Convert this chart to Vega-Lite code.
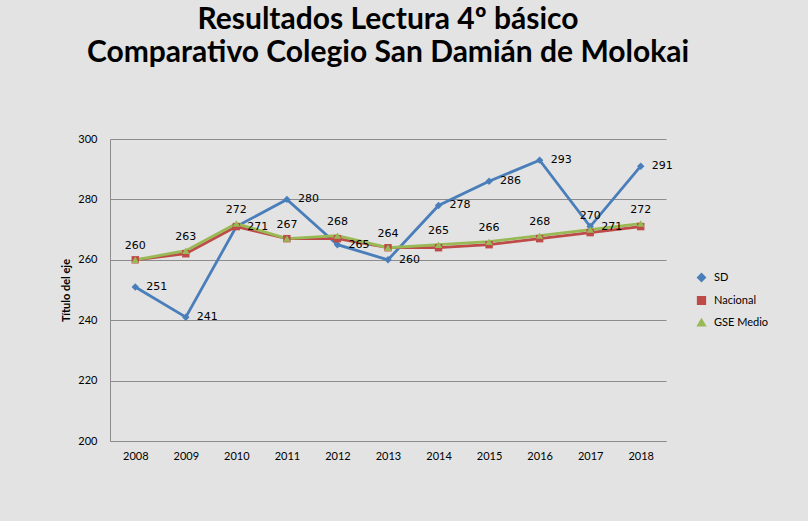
{
  "$schema": "https://vega.github.io/schema/vega-lite/v6.json",
  "width": 556,
  "height": 302,
  "autosize": {"type": "none"},
  "padding": {"left": 110, "top": 139, "right": 142, "bottom": 80},
  "background": "#e3e3e3",
  "title": {
    "text": ["Resultados Lectura 4º básico", "Comparativo Colegio San Damián de Molokai"],
    "font": "Lato",
    "fontSize": 30,
    "fontWeight": "bold",
    "color": "#000000",
    "lineHeight": 33,
    "anchor": "middle",
    "offset": 65
  },
  "config": {
    "view": {"stroke": null},
    "font": "Lato"
  },
  "data": {
    "values": [
      {"year": "2008", "series": "SD", "value": 251},
      {"year": "2009", "series": "SD", "value": 241},
      {"year": "2010", "series": "SD", "value": 271},
      {"year": "2011", "series": "SD", "value": 280},
      {"year": "2012", "series": "SD", "value": 265},
      {"year": "2013", "series": "SD", "value": 260},
      {"year": "2014", "series": "SD", "value": 278},
      {"year": "2015", "series": "SD", "value": 286},
      {"year": "2016", "series": "SD", "value": 293},
      {"year": "2017", "series": "SD", "value": 271},
      {"year": "2018", "series": "SD", "value": 291},
      {"year": "2008", "series": "Nacional", "value": 260},
      {"year": "2009", "series": "Nacional", "value": 262},
      {"year": "2010", "series": "Nacional", "value": 271},
      {"year": "2011", "series": "Nacional", "value": 267},
      {"year": "2012", "series": "Nacional", "value": 267},
      {"year": "2013", "series": "Nacional", "value": 264},
      {"year": "2014", "series": "Nacional", "value": 264},
      {"year": "2015", "series": "Nacional", "value": 265},
      {"year": "2016", "series": "Nacional", "value": 267},
      {"year": "2017", "series": "Nacional", "value": 269},
      {"year": "2018", "series": "Nacional", "value": 271},
      {"year": "2008", "series": "GSE Medio", "value": 260},
      {"year": "2009", "series": "GSE Medio", "value": 263},
      {"year": "2010", "series": "GSE Medio", "value": 272},
      {"year": "2011", "series": "GSE Medio", "value": 267},
      {"year": "2012", "series": "GSE Medio", "value": 268},
      {"year": "2013", "series": "GSE Medio", "value": 264},
      {"year": "2014", "series": "GSE Medio", "value": 265},
      {"year": "2015", "series": "GSE Medio", "value": 266},
      {"year": "2016", "series": "GSE Medio", "value": 268},
      {"year": "2017", "series": "GSE Medio", "value": 270},
      {"year": "2018", "series": "GSE Medio", "value": 272}
    ]
  },
  "encoding": {
    "x": {
      "field": "year",
      "type": "ordinal",
      "scale": {"type": "point", "padding": 0.5},
      "axis": {
        "title": null,
        "labelAngle": 0,
        "labelFontSize": 11,
        "labelColor": "#000000",
        "labelPadding": 9,
        "ticks": false,
        "domainColor": "#8c8c8c",
        "domainWidth": 1,
        "grid": false
      }
    },
    "y": {
      "field": "value",
      "type": "quantitative",
      "scale": {"domain": [200, 300], "nice": false, "zero": false},
      "axis": {
        "title": "Título del eje",
        "titleFontSize": 11,
        "titleFontWeight": "bold",
        "titleColor": "#000000",
        "titlePadding": 6,
        "values": [200, 220, 240, 260, 280, 300],
        "labelFontSize": 11,
        "labelColor": "#000000",
        "labelPadding": 13,
        "ticks": false,
        "domainColor": "#8c8c8c",
        "gridColor": "#8c8c8c",
        "gridWidth": 1
      }
    },
    "color": {
      "field": "series",
      "type": "nominal",
      "scale": {"domain": ["SD", "Nacional", "GSE Medio"], "range": ["#4a7ebb", "#be4b48", "#98b954"]},
      "legend": {
        "title": null,
        "orient": "none",
        "legendX": 586,
        "legendY": 133,
        "labelFontSize": 11,
        "labelColor": "#000000",
        "labelOffset": 7,
        "rowPadding": 8,
        "symbolSize": 60
      }
    }
  },
  "layer": [
    {
      "mark": {"type": "line", "strokeWidth": 2.8},
      "encoding": {
        "order": {"field": "year"}
      }
    },
    {
      "mark": {"type": "point", "filled": true, "opacity": 1, "size": 55},
      "encoding": {
        "shape": {
          "field": "series",
          "type": "nominal",
          "scale": {"domain": ["SD", "Nacional", "GSE Medio"], "range": ["diamond", "square", "triangle-up"]}
        }
      }
    },
    {
      "transform": [{"filter": "datum.series === 'SD'"}],
      "mark": {"type": "text", "align": "left", "baseline": "middle", "dx": 11, "font": "DejaVu Sans", "fontSize": 11, "color": "#000000"},
      "encoding": {"text": {"field": "value", "type": "quantitative"}, "color": {"value": "#000000"}}
    },
    {
      "transform": [{"filter": "datum.series === 'GSE Medio'"}],
      "mark": {"type": "text", "align": "center", "baseline": "middle", "dy": -14, "font": "DejaVu Sans", "fontSize": 11, "color": "#000000"},
      "encoding": {"text": {"field": "value", "type": "quantitative"}, "color": {"value": "#000000"}}
    }
  ]
}
